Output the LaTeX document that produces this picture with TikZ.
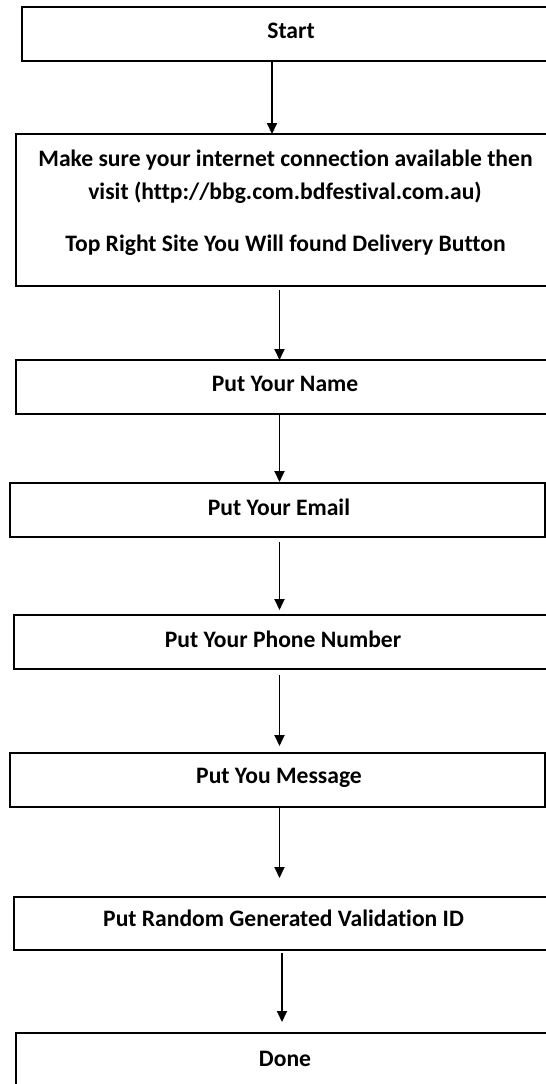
\documentclass[tikz,border=0pt]{standalone}
\usepackage{fontspec}
\setmainfont{Carlito}[Ligatures=NoCommon]
\usetikzlibrary{arrows.meta}
\begin{document}
\begin{tikzpicture}[x=0.5pt,y=-0.5pt,
  box/.style={draw=black, line width=1pt, rectangle, outer sep=0pt, inner sep=0pt},
  lbl/.style={anchor=base, inner sep=0pt, font=\fontsize{11.8}{14}\selectfont\bfseries},
  arr/.style={draw=black, line width=0.9pt, -{Triangle[width=5pt,length=5.5pt]}}]
\useasboundingbox (0,0) rectangle (546,1084);
\clip (0,0) rectangle (546,1084);
\fill[white] (0,0) rectangle (546,1084);
% boxes
\node[box, minimum width=265pt, minimum height=27pt] (start) at (287,34) {};
\node[box, minimum width=268pt, minimum height=76pt] (b2) at (284,210) {};
\node[box, minimum width=268pt, minimum height=27pt] (name) at (284,387) {};
\node[box, minimum width=267.5pt, minimum height=27pt] (email) at (277.5,510) {};
\node[box, minimum width=269pt, minimum height=27pt] (phone) at (283,642) {};
\node[box, minimum width=267.5pt, minimum height=27pt] (msg) at (277.5,780) {};
\node[box, minimum width=269pt, minimum height=26.5pt] (valid) at (283,923.5) {};
\node[box, minimum width=268pt, minimum height=33.5pt] (done) at (284,1066.5) {};
% texts
\node[lbl] (startT) at (291,38) {Start};
\node[lbl] (b2a) at (285.5,166) {Make sure your internet connection available then};
\node[lbl] (b2b) at (285,199) {visit (http://bbg.com.bdfestival.com.au)};
\node[lbl] (b2c) at (285.5,251) {Top Right Site You Will found Delivery Button};
\node[lbl] (nameT) at (285,391) {Put Your Name};
\node[lbl] (emailT) at (279,515) {Put Your Email};
\node[lbl] (phoneT) at (283,647) {Put Your Phone Number};
\node[lbl] (msgT) at (279,783) {Put You Message};
\node[lbl] (validT) at (283.5,926) {Put Random Generated Validation ID};
\node[lbl] (doneT) at (285,1066) {Done};
% arrow columns
\coordinate (ax1) at (272,0);
\coordinate (ax2) at (279.5,0);
\coordinate (ax3) at (282,0);
% connectors
\draw[arr] (start.south -| ax1) -- (b2.north -| ax1);
\draw[arr, shorten <=2pt] (b2.south -| ax2) -- (name.north -| ax2);
\draw[arr, shorten >=0.5pt] (name.south -| ax2) -- (email.north -| ax2);
\draw[arr, shorten <=2.5pt, shorten >=2.5pt] (email.south -| ax2) -- (phone.north -| ax2);
\draw[arr, shorten <=3pt, shorten >=3.5pt] (phone.south -| ax2) -- (msg.north -| ax2);
\draw[arr, shorten >=9.5pt] (msg.south -| ax2) -- (valid.north -| ax2);
\draw[arr, shorten <=1.5pt, shorten >=5.5pt] (valid.south -| ax3) -- (done.north -| ax3);
\end{tikzpicture}
\end{document}
